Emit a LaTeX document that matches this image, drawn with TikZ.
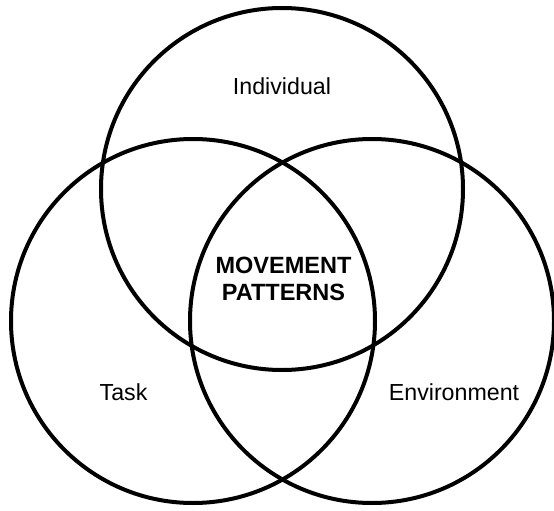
\documentclass[tikz,border=0pt]{standalone}
\usepackage{fontspec}
\setmainfont{Liberation Sans}
\begin{document}
\begin{tikzpicture}[x=1pt,y=-1pt,
  ring/.style={draw=black,line width=4pt},
  lbl/.style={font=\fontsize{23.2}{27}\selectfont,inner sep=0pt,align=center}]
\useasboundingbox (0,0) rectangle (554,511);
% three overlapping circles
\draw[ring] (282,189) circle[radius=181];
\draw[ring] (193,321) circle[radius=182];
\draw[ring] (372,321) circle[radius=182];
% labels
\node[lbl] (ind) at (282,86) {Individual};
\node[lbl] (task) at (123.5,392) {Task};
\node[lbl] (env) at (454,392) {Environment};
\node[lbl,font=\fontsize{23.5}{27.5}\selectfont\bfseries] (mp) at (283.5,279) {MOVEMENT\\PATTERNS};
\end{tikzpicture}
\end{document}
